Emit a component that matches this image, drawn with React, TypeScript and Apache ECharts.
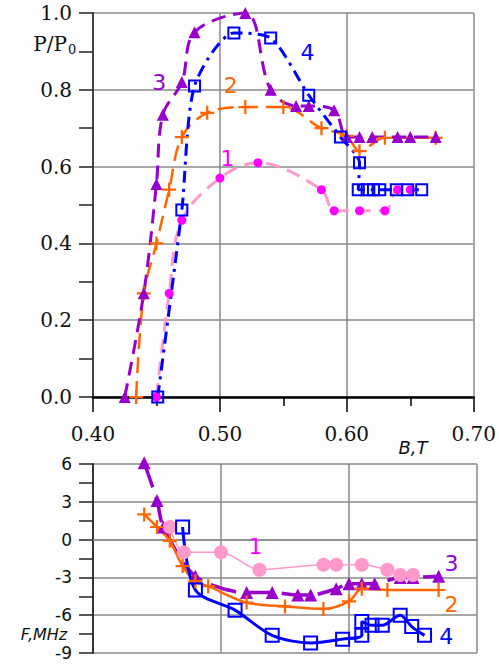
import React, { useEffect, useRef } from 'react';
import * as echarts from 'echarts';

// ---------- Data ----------
// Top panel: relative power P/P0 vs magnetic field B (T)
const topB1 = [0.45, 0.46, 0.47, 0.50, 0.53, 0.58, 0.59, 0.61, 0.63, 0.64, 0.65];
const topP1 = [0.0, 0.27, 0.46, 0.57, 0.61, 0.54, 0.485, 0.485, 0.485, 0.54, 0.54];

const topB2 = [0.434, 0.44, 0.45, 0.46, 0.47, 0.49, 0.52, 0.55, 0.58, 0.60, 0.61, 0.63, 0.67];
const topP2 = [0.0, 0.27, 0.40, 0.54, 0.677, 0.74, 0.755, 0.755, 0.70, 0.68, 0.64, 0.675, 0.675];

const topB3 = [0.425, 0.44, 0.45, 0.455, 0.47, 0.48, 0.52, 0.54, 0.56, 0.57, 0.59, 0.60, 0.61, 0.62, 0.64, 0.65, 0.67];
const topP3 = [0.0, 0.27, 0.555, 0.735, 0.82, 0.95, 1.0, 0.80, 0.758, 0.758, 0.747, 0.677, 0.677, 0.677, 0.677, 0.677, 0.677];

const topB4 = [0.451, 0.47, 0.48, 0.511, 0.54, 0.57, 0.595, 0.61, 0.609, 0.616, 0.621, 0.626, 0.639, 0.648, 0.659];
const topP4 = [0.0, 0.487, 0.81, 0.948, 0.935, 0.786, 0.677, 0.61, 0.54, 0.54, 0.54, 0.54, 0.54, 0.54, 0.54];

// Bottom panel: frequency shift F (MHz) vs B (T)
const botB1 = [0.46, 0.471, 0.50, 0.53, 0.58, 0.59, 0.61, 0.63, 0.64, 0.65];
const botF1 = [1.0, -1.0, -1.0, -2.4, -2.0, -2.0, -2.0, -2.4, -2.8, -2.8];

const botB2 = [0.44, 0.45, 0.46, 0.47, 0.48, 0.49, 0.52, 0.55, 0.58, 0.60, 0.61, 0.63, 0.67];
const botF2 = [2.0, 1.0, -0.1, -2.1, -3.3, -3.7, -5.0, -5.3, -5.5, -4.9, -3.9, -4.0, -4.0];

const botB3 = [0.44, 0.45, 0.455, 0.48, 0.52, 0.54, 0.56, 0.57, 0.59, 0.60, 0.61, 0.62, 0.64, 0.65, 0.67];
const botF3 = [6.1, 3.1, 1.0, -2.9, -4.2, -4.2, -4.4, -4.4, -3.9, -3.5, -3.5, -3.5, -3.0, -3.0, -2.9];

const botB4 = [0.47, 0.48, 0.511, 0.54, 0.57, 0.595, 0.61, 0.61, 0.618, 0.626, 0.64, 0.649, 0.659];
const botF4 = [1.0, -4.0, -5.6, -7.6, -8.2, -7.9, -7.6, -6.5, -6.8, -6.8, -6.0, -6.9, -7.6];

// Curve number labels (data coordinates)
const seriesNames = ['1', '2', '3', '4'];
const topLabelB = [0.506, 0.5086, 0.4523, 0.569];
const topLabelP = [0.622, 0.8125, 0.82, 0.898];
const botLabelB = [0.527, 0.68, 0.68, 0.676];
const botLabelF = [-0.56, -5.16, -1.9, -7.7];

const xMin = 0.4, xMax = 0.7, xStep = 0.1;
const pMin = 0, pMax = 1.0, pStep = 0.2;
const fMin = -9, fMax = 6, fStep = 3;

const COLORS = ['#ff99cc', '#ff6600', '#9900cc', '#0000ff'];
const LABEL_COLORS = ['#ff00ff', '#ff6600', '#9900cc', '#0000ff'];
const PLUS = 'path://M4.2,0H5.8V4.2H10V5.8H5.8V10H4.2V5.8H0V4.2H4.2Z';

const zip = (a: number[], b: number[]) => a.map((v, i) => [v, b[i]]);

export default function App() {
  const ref = useRef<HTMLDivElement>(null);
  useEffect(() => {
    document.body.style.margin = '0';
    const chart = echarts.init(ref.current!, null, { renderer: 'svg' });
    const serif = 'DejaVu Serif';
    const sans = 'DejaVu Sans';
    const grid = '#8a8a8a';

    const option: any = {
      animation: false,
      backgroundColor: '#fcfdfc',
      grid: [
        { left: 93, top: 13, width: 384, height: 384 },
        { left: 93, top: 464, width: 384, height: 189 },
      ],
      xAxis: [
        {
          type: 'value', gridIndex: 0, min: xMin, max: xMax, interval: xStep,
          axisLine: { lineStyle: { color: '#000', width: 2.5 } },
          axisTick: { show: true, length: 15, lineStyle: { color: '#000', width: 1.5 } },
          minorTick: { show: true, splitNumber: 2, length: 9, lineStyle: { color: '#000', width: 1.5 } },
          axisLabel: { fontFamily: serif, fontSize: 20, color: '#111', margin: 27, formatter: (v: number) => v.toFixed(2) },
          splitLine: { show: true, lineStyle: { color: grid, width: 1.5 } },
        },
        {
          type: 'value', gridIndex: 1, min: xMin, max: xMax, interval: xStep,
          axisLine: { lineStyle: { color: grid, width: 1.5 } },
          axisTick: { show: false },
          axisLabel: { show: false },
          splitLine: { show: true, lineStyle: { color: grid, width: 1.5 } },
        },
      ],
      yAxis: [
        {
          type: 'value', gridIndex: 0, min: pMin, max: pMax, interval: pStep,
          axisLine: { show: true, lineStyle: { color: '#444', width: 2 } },
          axisTick: { show: true, length: 14, lineStyle: { color: '#222', width: 1.5 } },
          minorTick: { show: true, splitNumber: 2, length: 14, lineStyle: { color: '#222', width: 1.5 } },
          axisLabel: { fontFamily: serif, fontSize: 20, color: '#111', margin: 21, formatter: (v: number) => v.toFixed(1) },
          splitLine: { show: true, lineStyle: { color: grid, width: 1.5 } },
        },
        {
          type: 'value', gridIndex: 1, min: fMin, max: fMax, interval: fStep,
          axisLine: { show: true, lineStyle: { color: '#333', width: 2 } },
          axisTick: { show: true, length: 14, lineStyle: { color: '#222', width: 1.5 } },
          minorTick: { show: true, splitNumber: 2, length: 14, lineStyle: { color: '#222', width: 1.5 } },
          axisLabel: { fontFamily: sans, fontSize: 17, color: '#111', margin: 21 },
          splitLine: { show: true, lineStyle: { color: grid, width: 1.5 } },
        },
      ],
      series: [
        // top panel
        {
          type: 'line', xAxisIndex: 0, yAxisIndex: 0, data: zip(topB1, topP1), smooth: 0.35, clip: false,
          lineStyle: { color: COLORS[0], width: 3, type: [14, 8] },
          symbol: 'circle', symbolSize: 9, itemStyle: { color: '#ff00ff' },
        },
        {
          type: 'line', xAxisIndex: 0, yAxisIndex: 0, data: zip(topB2, topP2), smooth: 0.35, clip: false,
          lineStyle: { color: COLORS[1], width: 2.5, type: [16, 8] },
          symbol: PLUS, symbolSize: 14, itemStyle: { color: COLORS[1] },
        },
        {
          type: 'line', xAxisIndex: 0, yAxisIndex: 0, data: zip(topB3, topP3), smooth: 0.35, clip: false,
          lineStyle: { color: COLORS[2], width: 3, type: [14, 8] },
          symbol: 'triangle', symbolSize: 12, itemStyle: { color: COLORS[2] },
        },
        {
          type: 'line', xAxisIndex: 0, yAxisIndex: 0, data: zip(topB4, topP4), smooth: 0.25, clip: false,
          lineStyle: { color: COLORS[3], width: 3, type: [12, 6, 3, 6] },
          symbol: 'rect', symbolSize: 11,
          itemStyle: { color: 'rgba(0,0,0,0)', borderColor: COLORS[3], borderWidth: 2 },
        },
        // bottom panel
        {
          type: 'line', xAxisIndex: 1, yAxisIndex: 1, data: zip(botB3, botF3), smooth: 0.3, clip: false,
          lineStyle: { color: COLORS[2], width: 3.5, type: [26, 10] },
          symbol: 'triangle', symbolSize: 13, itemStyle: { color: COLORS[2] },
        },
        {
          type: 'line', xAxisIndex: 1, yAxisIndex: 1, data: zip(botB1, botF1), smooth: 0.3, clip: false,
          lineStyle: { color: COLORS[0], width: 1.5 },
          symbol: 'circle', symbolSize: 14, itemStyle: { color: COLORS[0] },
        },
        {
          type: 'line', xAxisIndex: 1, yAxisIndex: 1, data: zip(botB2, botF2), smooth: 0.3, clip: false,
          lineStyle: { color: COLORS[1], width: 2.5 },
          symbol: PLUS, symbolSize: 14, itemStyle: { color: COLORS[1] },
        },
        {
          type: 'line', xAxisIndex: 1, yAxisIndex: 1, data: zip(botB4, botF4), smooth: 0.3, clip: false,
          lineStyle: { color: COLORS[3], width: 3 },
          symbol: 'rect', symbolSize: 13,
          itemStyle: { color: 'rgba(0,0,0,0)', borderColor: COLORS[3], borderWidth: 2 },
        },
      ],
    };
    chart.setOption(option);

    const graphic: any[] = [];
    seriesNames.forEach((name, i) => {
      const p1 = chart.convertToPixel({ gridIndex: 0 }, [topLabelB[i], topLabelP[i]]) as number[];
      graphic.push({
        type: 'text', x: p1[0], y: p1[1], z: 10,
        style: { text: name, fill: LABEL_COLORS[i], font: `22px "${sans}"`, align: 'center', verticalAlign: 'middle' },
      });
      const p2 = chart.convertToPixel({ gridIndex: 1 }, [botLabelB[i], botLabelF[i]]) as number[];
      graphic.push({
        type: 'text', x: p2[0], y: p2[1], z: 10,
        style: { text: name, fill: LABEL_COLORS[i], font: `22px "${sans}"`, align: 'center', verticalAlign: 'middle' },
      });
    });
    // axis titles
    graphic.push({
      type: 'text', x: 67, y: 44, z: 10,
      style: { text: 'P/P', fill: '#111', font: `20px "${serif}"`, align: 'right', verticalAlign: 'middle' },
    });
    graphic.push({
      type: 'text', x: 68, y: 49, z: 10,
      style: { text: '0', fill: '#111', font: `13px "${serif}"`, align: 'left', verticalAlign: 'middle' },
    });
    graphic.push({
      type: 'text', x: 413, y: 447, z: 10,
      style: { text: 'B,T', fill: '#111', font: `italic 18px "${sans}"`, align: 'center', verticalAlign: 'middle' },
    });
    graphic.push({
      type: 'text', x: 44, y: 634.5, z: 10,
      style: { text: 'F,MHz', fill: '#111', font: `italic 16px "${sans}"`, align: 'center', verticalAlign: 'middle' },
    });
    chart.setOption({ graphic });

    return () => chart.dispose();
  }, []);
  return <div ref={ref} style={{ width: 499, height: 664 }} />;
}
